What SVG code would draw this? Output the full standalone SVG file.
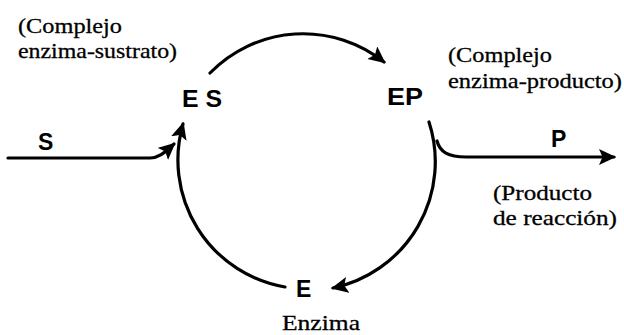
<svg xmlns="http://www.w3.org/2000/svg" width="624" height="335" viewBox="0 0 624 335">
<style>
.lbl{font-family:"Liberation Sans",Arial,sans-serif;font-weight:bold;font-size:23px;fill:#000}
.note{font-family:"Liberation Serif","Times New Roman",serif;font-size:22px;fill:#000;stroke:#000;stroke-width:0.3}
.conn{fill:none;stroke:#000;stroke-width:3.2;stroke-linecap:round}
</style>
<defs>
<marker id="ah" markerUnits="userSpaceOnUse" markerWidth="20" markerHeight="18" refX="15" refY="8" orient="auto" viewBox="0 0 20 18">
<path d="M0,0 L17,8 L0,16 L3.5,8 z" fill="#000"/>
</marker>
</defs>
<rect width="624" height="335" fill="#fff"/>
<g id="connectors">
<path class="conn" d="M210,73 A130,130 0 0 1 384,62" marker-end="url(#ah)"/>
<path class="conn" d="M429,122 A129,129 0 0 1 333,288" marker-end="url(#ah)"/>
<path class="conn" d="M285,287 A129,129 0 0 1 183,124" marker-end="url(#ah)"/>
<path class="conn" d="M8,158 L150,158 C160,158 166,151 174,144" marker-end="url(#ah)"/>
<path class="conn" d="M437,141 C440,152 448,157 466,157 L614,157" marker-end="url(#ah)"/>
</g>
<g id="node-ES">
<text class="lbl" x="182" y="107" textLength="40" lengthAdjust="spacingAndGlyphs">E S</text>
<text class="note" x="18" y="33" textLength="104" lengthAdjust="spacingAndGlyphs">(Complejo</text>
<text class="note" x="18" y="58" textLength="159" lengthAdjust="spacingAndGlyphs">enzima-sustrato)</text>
</g>
<g id="node-EP">
<text class="lbl" x="387" y="105" textLength="36" lengthAdjust="spacingAndGlyphs">EP</text>
<text class="note" x="448" y="62" textLength="104" lengthAdjust="spacingAndGlyphs">(Complejo</text>
<text class="note" x="448" y="88" textLength="174" lengthAdjust="spacingAndGlyphs">enzima-producto)</text>
</g>
<g id="node-E">
<text class="lbl" x="296" y="297">E</text>
<text class="note" x="282" y="330" textLength="78" lengthAdjust="spacingAndGlyphs">Enzima</text>
</g>
<g id="node-S">
<text class="lbl" x="38" y="150">S</text>
</g>
<g id="node-P">
<text class="lbl" x="551" y="147">P</text>
<text class="note" x="493" y="200" textLength="99" lengthAdjust="spacingAndGlyphs">(Producto</text>
<text class="note" x="493" y="225" textLength="124" lengthAdjust="spacingAndGlyphs">de reacción)</text>
</g>
</svg>
